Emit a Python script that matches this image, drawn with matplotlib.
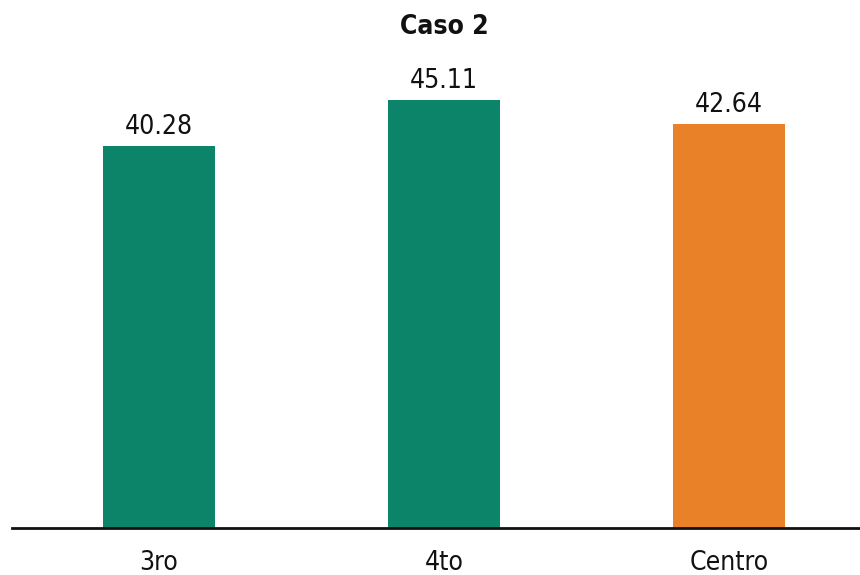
import matplotlib.pyplot as plt

plt.rcParams['font.family'] = ['DejaVu Sans']
plt.rcParams['font.stretch'] = 'condensed'

categorias = ['3ro', '4to', 'Centro']
valores = [40.28, 45.11, 42.64]
colores = ['#0C846A', '#0C846A', '#E88128']

fig = plt.figure(figsize=(8.6, 5.75), dpi=100)
ax = fig.add_axes([12 / 860, 47 / 575, 848 / 860, 474 / 575])

x = range(len(categorias))
barras = ax.bar(x, valores, width=0.395, color=colores)

for b, v in zip(barras, valores):
    ax.text(b.get_x() + b.get_width() / 2, v + 0.65, f'{v:.2f}',
            ha='center', va='bottom', fontsize=19, color='#111111')

ax.set_xlim(-0.516, 2.46)
ax.set_ylim(0, 50)
ax.set_xticks(list(x))
ax.set_xticklabels(categorias, fontsize=19, color='#111111')
ax.tick_params(axis='x', length=0, pad=16)
ax.set_yticks([])

for s in ['top', 'right', 'left']:
    ax.spines[s].set_visible(False)
ax.spines['bottom'].set_linewidth(2)
ax.spines['bottom'].set_color('#111111')

fig.text(444 / 860, 1 - 27 / 575, 'Caso 2', ha='center', va='center',
         fontsize=19, fontweight='bold', color='#111111')

fig.savefig('out.png', dpi=100)
